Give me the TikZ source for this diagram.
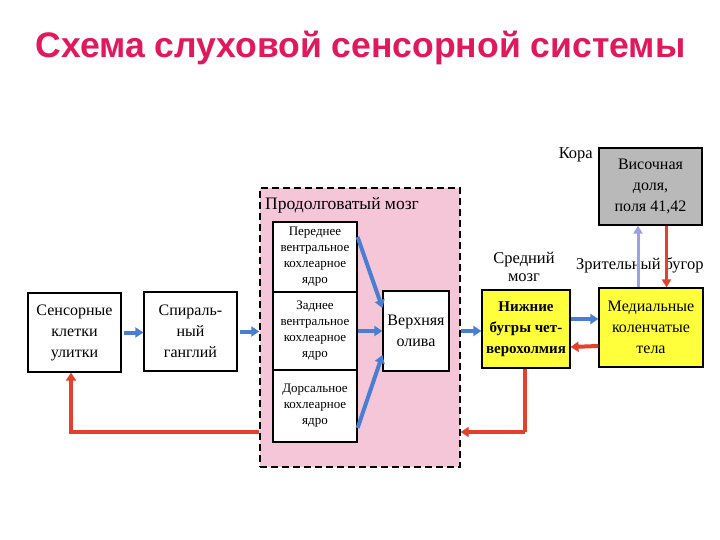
\documentclass[tikz,border=0pt]{standalone}
\usepackage{fontspec}
\setmainfont{Liberation Serif}
\newfontfamily\titlefont{Liberation Sans}
\usetikzlibrary{arrows.meta}
\definecolor{ttl}{HTML}{E2185C}
\definecolor{pinkbg}{HTML}{F5C6D8}
\definecolor{ylw}{HTML}{FFFF3C}
\definecolor{gry}{HTML}{B9B9B9}
\definecolor{bluar}{HTML}{4A7ED2}
\definecolor{redar}{HTML}{E5402C}
\definecolor{lilac}{HTML}{9AA2E2}
\tikzset{
  box/.style={draw=black, line width=1.2pt, fill=white, align=center, inner sep=0pt,
    font=\fontsize{16}{21}\selectfont},
  sub/.style={draw=black, line width=1.2pt, fill=white, align=center, inner sep=0pt,
    font=\fontsize{13}{16}\selectfont, minimum width=84pt, minimum height=72pt},
  ybox/.style={box, fill=ylw, font=\bfseries\fontsize{15}{21}\selectfont},
  lbl/.style={font=\fontsize{16.5}{18}\selectfont, align=center, inner sep=0pt},
  barrow/.style={-{Triangle[length=8pt,width=10pt]}, line width=4pt, draw=bluar},
  rline/.style={line width=4pt, draw=redar},
  rarrow/.style={-{Triangle[length=8pt,width=10pt]}, line width=4pt, draw=redar},
}
\begin{document}
\begin{tikzpicture}[x=1pt,y=-1pt]
\useasboundingbox (0,0) rectangle (720,540);
\fill[white] (0,0) rectangle (720,540);

\node[font=\titlefont\bfseries\fontsize{35.5}{38}\selectfont, text=ttl, anchor=west] (title) at (32,48) {Схема слуховой сенсорной системы};

% medulla region
\node[draw=black, line width=1.4pt, dashed, dash pattern=on 7pt off 4pt, fill=pinkbg,
  minimum width=200pt, minimum height=279pt, inner sep=0pt] (med) at (360,327.5) {};
\node[lbl, anchor=west, font=\fontsize{17.5}{19}\selectfont] (medl) at (265,205) {Продолговатый мозг};

% left boxes
\node[box, minimum width=93pt, minimum height=79pt] (sens) at (74.5,332.5) {Сенсорные\\клетки\\улитки};
\node[box, minimum width=93pt, minimum height=79pt] (spir) at (190.5,331.5) {Спираль-\\ный\\ганглий};

% nuclei
\node[sub, minimum height=70pt] (n1) at (315,257) {Переднее\\вентральное\\кохлеарное\\ядро};
\node[sub, minimum height=78pt] (n2) at (315,331) {Заднее\\вентральное\\кохлеарное\\ядро};
\node[sub, minimum height=72pt] (n3) at (315,406) {Дорсальное\\кохлеарное\\ядро};

\node[box, minimum width=66pt, minimum height=80pt] (oliv) at (416,331) {Верхняя\\олива};

% midbrain
\node[ybox, minimum width=88pt, minimum height=78pt] (ic) at (526,329) {Нижние\\бугры чет-\\верохолмия};
\node[lbl] (mid) at (524,267) {Средний\\мозг};

% thalamus
\node[ybox, minimum width=104pt, minimum height=79pt, font=\fontsize{16}{21}\selectfont] (mgb) at (651,327.5) {Медиальные\\коленчатые\\тела};
\node[lbl, anchor=west] (thl) at (576,265) {Зрительный бугор};

% cortex
\node[box, fill=gry, minimum width=103pt, minimum height=77pt] (ctx) at (650.5,186.5) {Височная\\доля,\\поля 41,42};
\node[lbl, anchor=east] (kora) at (593,155) {Кора};

% blue arrows
\draw[barrow] (sens.east) ++(2,0) coordinate (a1) -- (spir.west |- a1);
\draw[barrow] (spir.east) ++(2,0) coordinate (a2) -- (med.west |- a2);
\draw[barrow] ([yshift=20pt]n1.east) -- ([yshift=23pt]oliv.west);
\draw[barrow] (n2.east) -- (oliv.west |- n2.east);
\draw[barrow] ([yshift=-22pt]n3.east) -- ([yshift=-24pt]oliv.west);
\draw[barrow] (oliv.east) ++(11,0) coordinate (a3) -- (ic.west |- a3);
\draw[barrow] ([yshift=10pt]ic.east) -- ([yshift=8.5pt]mgb.west);
\draw[-{Triangle[length=8pt,width=9pt]}, line width=3pt, draw=lilac] ([xshift=-13pt]mgb.north) -- ([xshift=-13pt]ctx.south -| mgb.north);

% red arrows
\draw[rarrow] ([yshift=-18.5pt]mgb.west) -- ([yshift=-18pt]ic.east);
\draw[-{Triangle[length=8pt,width=9pt]}, line width=3pt, draw=redar] ([xshift=16pt]ctx.south) -- ([xshift=16pt]ctx.south |- mgb.north);
\coordinate (r1) at (525,432);
\draw[rline] (ic.south -| r1) -- (r1);
\draw[rarrow] (r1) -- (med.east |- r1);
\coordinate (r2) at (71,432);
\draw[rarrow] (med.west |- r2) -- (r2) -- (sens.south -| r2);
\end{tikzpicture}
\end{document}
